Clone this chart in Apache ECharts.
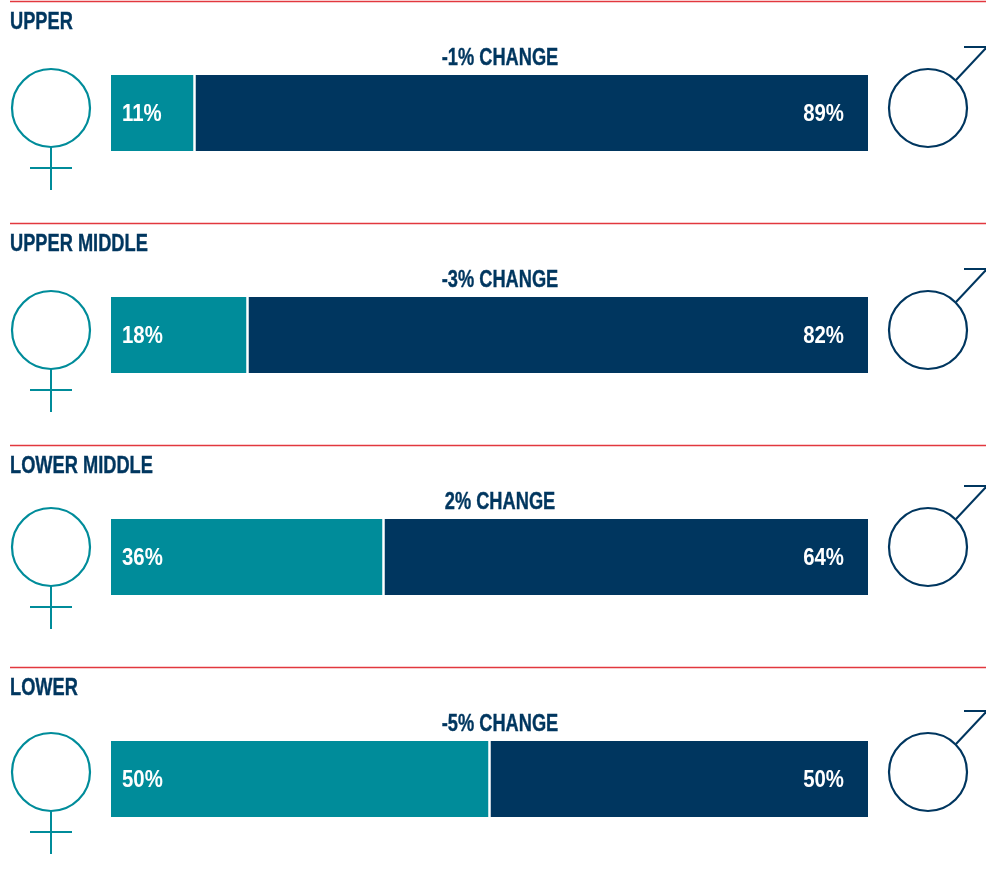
<!DOCTYPE html>
<html>
<head>
<meta charset="utf-8">
<title>Gender split by quartile</title>
<script src="https://cdn.jsdelivr.net/npm/echarts@6/dist/echarts.min.js"></script>
<style>
  html, body { margin: 0; padding: 0; background: #fff; }
  #chart { width: 986px; height: 887px; }
</style>
</head>
<body>
<div id="chart"></div>
<script>
const quartiles = ['UPPER', 'UPPER MIDDLE', 'LOWER MIDDLE', 'LOWER']
const changes = ['-1% CHANGE', '-3% CHANGE', '2% CHANGE', '-5% CHANGE']
const womenShare = [11, 18, 36, 50]
const menShare = [89, 82, 64, 50]

const TEAL = '#008C9A'
const NAVY = '#00365F'
const RED = '#E2383F'
const FONT = '"Liberation Sans", sans-serif'

// per row layout: top of the block, and centre of the gender icons
const rowTop = [1, 223, 445, 667]
const iconY = [108, 330, 547, 772]
const maleTop = [47, 269, 486, 711]

const grid = []
const xAxis = []
const yAxis = []
const series = []
const graphic = []

const line = (x1, y1, x2, y2, color, width) => ({
  type: 'line',
  silent: true,
  shape: { x1, y1, x2, y2 },
  style: { stroke: color, lineWidth: width }
})

const ring = (cx, cy, color) => ({
  type: 'circle',
  silent: true,
  shape: { cx, cy, r: 39 },
  style: { fill: 'none', stroke: color, lineWidth: 2.2 }
})

// no condensed font here, so the heading text is squeezed horizontally
const heading = (text, x, y, align) => ({
  type: 'text',
  silent: true,
  x,
  y,
  scaleX: 0.76,
  style: {
    text,
    fill: NAVY,
    stroke: NAVY,
    lineWidth: 0.4,
    fontFamily: FONT,
    fontWeight: 'bold',
    fontSize: 24,
    textAlign: align,
    textVerticalAlign: 'middle'
  }
})

// percent label anchored on the bar end through the axis scale
const renderShare = (offset, align) => (params, api) => {
  const pos = api.coord([api.value(0), api.value(1)])
  return {
    type: 'text',
    silent: true,
    x: pos[0] + offset,
    y: pos[1] + 1.5,
    scaleX: 0.85,
    z2: 10,
    style: {
      text: api.value(2) + '%',
      fill: '#fff',
      fontFamily: FONT,
      fontWeight: 'bold',
      fontSize: 24,
      textAlign: align,
      textVerticalAlign: 'middle'
    }
  }
}

quartiles.forEach((name, i) => {
  const top = rowTop[i]

  grid.push({ left: 111, width: 757, top: top + 74, height: 76 })
  xAxis.push({ gridIndex: i, type: 'value', min: 0, max: 100, show: false })
  yAxis.push({ gridIndex: i, type: 'category', data: [name], show: false })

  series.push({
    type: 'bar',
    xAxisIndex: i,
    yAxisIndex: i,
    stack: 'share' + i,
    barWidth: '100%',
    data: [womenShare[i]],
    itemStyle: { color: TEAL },
    // white gap between the two segments
    markLine: {
      silent: true,
      symbol: 'none',
      label: { show: false },
      lineStyle: { color: '#fff', width: 2.5, type: 'solid' },
      data: [{ xAxis: womenShare[i] }],
      z: 5
    }
  })
  series.push({
    type: 'bar',
    xAxisIndex: i,
    yAxisIndex: i,
    stack: 'share' + i,
    barWidth: '100%',
    data: [menShare[i]],
    itemStyle: { color: NAVY }
  })
  series.push({
    type: 'custom',
    xAxisIndex: i,
    yAxisIndex: i,
    z: 6,
    silent: true,
    renderItem: renderShare(11, 'left'),
    data: [[0, 0, womenShare[i]]]
  })
  series.push({
    type: 'custom',
    xAxisIndex: i,
    yAxisIndex: i,
    z: 6,
    silent: true,
    renderItem: renderShare(-24, 'right'),
    data: [[100, 0, menShare[i]]]
  })

  graphic.push(heading(name, 10, top + 21, 'left'))
  graphic.push(heading(changes[i], 500, top + 57, 'center'))

  // rule above each block
  graphic.push(line(10, top + 0.5, 986, top + 0.5, RED, 1.5))

  // female icon
  const cy = iconY[i]
  graphic.push(ring(51, cy, TEAL))
  graphic.push(line(51, cy + 39, 51, cy + 82, TEAL, 2))
  graphic.push(line(30, cy + 60, 72, cy + 60, TEAL, 2))

  // male icon, the arrow runs off the right edge
  const mt = maleTop[i]
  graphic.push(ring(928, cy, NAVY))
  graphic.push(line(956, cy - 28, 987, mt, NAVY, 2))
  graphic.push(line(964, mt, 987, mt, NAVY, 2))
})

const chart = echarts.init(document.getElementById('chart'), null, { renderer: 'canvas' })
chart.setOption({
  animation: false,
  backgroundColor: '#fff',
  grid,
  xAxis,
  yAxis,
  series,
  graphic
})
</script>
</body>
</html>
